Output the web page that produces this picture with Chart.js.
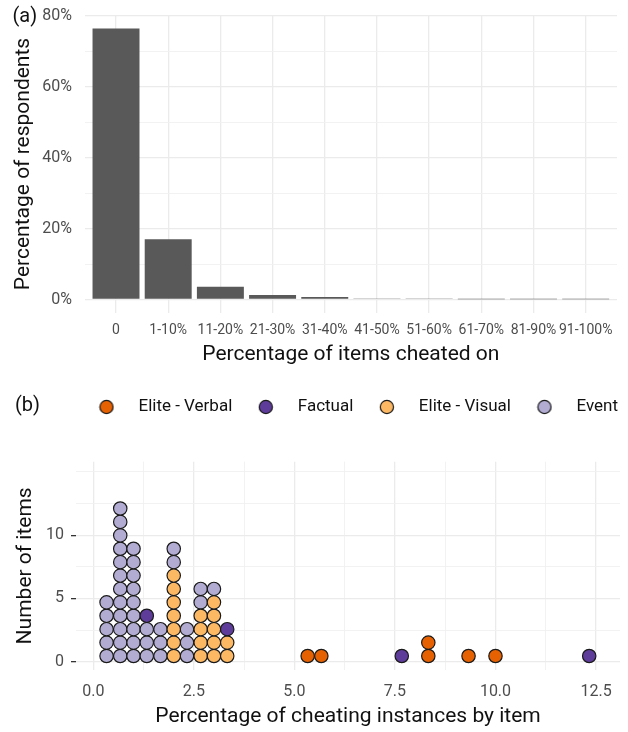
<!DOCTYPE html>
<html><head><meta charset="utf-8">
<script src="https://cdn.jsdelivr.net/npm/chart.js@4"></script>
<style>
html,body{margin:0;padding:0;background:#fff;}
#wrap{position:relative;width:628px;height:732px;overflow:hidden;}
#ca{position:absolute;left:0;top:0;}
#cb{position:absolute;left:0;top:370px;}
</style></head><body>
<div id="wrap">
<canvas id="ca" width="628" height="370"></canvas>
<canvas id="cb" width="628" height="362"></canvas>
</div>
<script>
// ---------- Panel (a) data ----------
const itemBands = ['0','1-10%','11-20%','21-30%','31-40%','41-50%','51-60%','61-70%','81-90%','91-100%'];
const respondentPct = [76.4, 17.0, 3.6, 1.3, 0.7, 0.3, 0.3, 0.1, 0.1, 0.1];
const pctTicks = [0, 20, 40, 60, 80];

// ---------- Panel (b) data ----------
const itemPct = [0.33, 0.67, 1.0, 1.33, 1.67, 2.0, 2.33, 2.67, 3.0, 3.33, 5.33, 5.67, 7.67, 8.33, 9.33, 10.0, 12.33];
const eliteVisualCounts = [0,0,0,0,0,7,0,4,5,2,0,0,0,0,0,0,0];
const eventCounts       = [5,12,9,3,3,2,3,2,1,0,0,0,0,0,0,0,0];
const factualCounts     = [0,0,0,1,0,0,0,0,0,1,0,0,1,0,0,0,1];
const eliteVerbalCounts = [0,0,0,0,0,0,0,0,0,0,1,1,0,2,1,1,0];
const xTicksB = [0, 2.5, 5, 7.5, 10, 12.5];
const yTicksB = [0, 5, 10];

// ---------- helpers ----------
const FONT = 'Roboto';
const TICK_COL = '#4D4D4D';
const TITLE_COL = '#111111';
const GRID_MAJOR = '#EBEBEB';
const GRID_MINOR = '#F1F1F1';

function withMinor(majors, max) {
  return s => {
    const step = (majors[1] - majors[0]) / 2;
    const t = [];
    for (let v = majors[0]; v <= max + 1e-9; v += step) t.push({value: Math.round(v * 1000) / 1000});
    s.ticks = t;
  };
}
function isMajor(list, v) { return list.some(m => Math.abs(m - v) < 1e-6); }

const panelLabel = {
  id: 'panelLabel',
  afterDraw(chart, args, opts) {
    const ctx = chart.ctx;
    ctx.save();
    ctx.font = '20px ' + FONT;
    ctx.fillStyle = TITLE_COL;
    ctx.textBaseline = 'middle';
    ctx.textAlign = 'left';
    ctx.fillText(opts.text, opts.x, opts.y);
    ctx.restore();
  }
};

// ---------- Chart (a) ----------
new Chart(document.getElementById('ca'), {
  type: 'bar',
  data: {
    datasets: [{
      label: 'Percentage of respondents',
      data: itemBands.map((b, i) => ({x: i, y: respondentPct[i]})),
      backgroundColor: '#595959',
      borderWidth: 0,
      barPercentage: 0.9,
      categoryPercentage: 1.0
    }]
  },
  plugins: [panelLabel],
  options: {
    responsive: false,
    animation: false,
    layout: {padding: {left: 0, right: 11, top: 15, bottom: 0}},
    plugins: {
      legend: {display: false},
      tooltip: {enabled: false},
      panelLabel: {text: '(a)', x: 12.5, y: 17}
    },
    scales: {
      x: {
        type: 'linear', min: -0.6, max: 9.6, offset: false,
        afterBuildTicks: s => { s.ticks = itemBands.map((b, i) => ({value: i})); },
        ticks: {
          callback: v => itemBands[v],
          autoSkip: false, maxRotation: 0, minRotation: 0,
          color: TICK_COL, font: {family: FONT, size: 14}, padding: 9.3
        },
        grid: {color: GRID_MAJOR, lineWidth: 1.3, drawTicks: false, offset: false},
        border: {display: false},
        title: {display: true, text: 'Percentage of items cheated on',
          font: {family: FONT, size: 21}, color: TITLE_COL, padding: {top: 0, bottom: 2.4}},
        afterFit: s => { s.height = 57; }
      },
      y: {
        min: -3.8, max: 80.2,
        afterBuildTicks: withMinor(pctTicks, 80.2),
        ticks: {
          callback: v => isMajor(pctTicks, v) ? v + '%' : '',
          autoSkip: false, color: TICK_COL, font: {family: FONT, size: 16}, padding: 4.7
        },
        grid: {
          color: c => isMajor(pctTicks, c.tick.value) ? GRID_MAJOR : GRID_MINOR,
          lineWidth: c => isMajor(pctTicks, c.tick.value) ? 1.3 : 0.9,
          drawTicks: true, tickLength: 8, tickColor: 'rgba(0,0,0,0)'
        },
        border: {display: false},
        title: {display: true, text: 'Percentage of respondents',
          font: {family: FONT, size: 21}, color: TITLE_COL, padding: {top: 11.4, bottom: 0}},
        afterFit: s => { s.width = 84.7; }
      }
    }
  }
});

// ---------- Chart (b) ----------
const stackOrder = [eliteVisualCounts, eventCounts, factualCounts, eliteVerbalCounts];
const DOT_BASE = 0.45, DOT_STEP = 1.06;
function stackPoints(counts) {
  const idx = stackOrder.indexOf(counts);
  const pts = [];
  itemPct.forEach((x, b) => {
    let below = 0;
    for (let k = 0; k < idx; k++) below += stackOrder[k][b];
    for (let n = 0; n < counts[b]; n++) pts.push({x: x, y: DOT_BASE + (below + n) * DOT_STEP});
  });
  return pts;
}
function keyIcon(color) {
  const c = document.createElement('canvas');
  c.width = 16; c.height = 16;
  const g = c.getContext('2d');
  g.beginPath();
  g.arc(8, 8, 6.6, 0, Math.PI * 2);
  g.fillStyle = color; g.fill();
  g.lineWidth = 1.2; g.strokeStyle = '#1a1a1a'; g.stroke();
  return c;
}
const series = [
  {label: 'Elite - Verbal', counts: eliteVerbalCounts, color: '#E66101'},
  {label: 'Factual',        counts: factualCounts,     color: '#5E3C99'},
  {label: 'Elite - Visual', counts: eliteVisualCounts, color: '#FDB863'},
  {label: 'Event',          counts: eventCounts,       color: '#B2ABD2'}
];

new Chart(document.getElementById('cb'), {
  type: 'scatter',
  data: {
    datasets: series.map(s => ({
      label: s.label,
      data: stackPoints(s.counts),
      backgroundColor: s.color,
      borderColor: '#1a1a1a',
      borderWidth: 1.2,
      pointRadius: 6.7,
      pointHoverRadius: 6.7,
      xAxisID: 'x', yAxisID: 'y'
    }))
  },
  plugins: [panelLabel],
  options: {
    responsive: false,
    animation: false,
    layout: {padding: {left: 0, right: 0, top: 18.5, bottom: 0}},
    plugins: {
      tooltip: {enabled: false},
      panelLabel: {text: '(b)', x: 15, y: 36},
      legend: {
        display: true, position: 'top', align: 'end',
        labels: {
          usePointStyle: true, pointStyleWidth: 47, padding: 10,
          font: {family: FONT, size: 17}, color: TITLE_COL,
          generateLabels: chart => chart.data.datasets.map((ds, i) => ({
            text: ds.label, fillStyle: ds.backgroundColor, strokeStyle: '#1a1a1a',
            lineWidth: 1.2, pointStyle: keyIcon(ds.backgroundColor), hidden: false,
            datasetIndex: i, fontColor: TITLE_COL
          }))
        }
      }
    },
    scales: {
      x: {
        type: 'linear', position: 'bottom', min: -0.43, max: 13.096,
        afterBuildTicks: withMinor(xTicksB, 13.096),
        ticks: {
          callback: v => isMajor(xTicksB, v) ? v.toFixed(1) : '',
          autoSkip: false, maxRotation: 0, minRotation: 0,
          color: TICK_COL, font: {family: FONT, size: 16}, padding: 12.1
        },
        grid: {
          color: c => isMajor(xTicksB, c.tick.value) ? GRID_MAJOR : GRID_MINOR,
          lineWidth: c => isMajor(xTicksB, c.tick.value) ? 1.3 : 0.9,
          drawTicks: false
        },
        border: {display: false},
        title: {display: true, text: 'Percentage of cheating instances by item',
          font: {family: FONT, size: 21}, color: TITLE_COL, padding: {top: 0, bottom: 2.7}},
        afterFit: s => { s.height = 62; }
      },
      y: {
        type: 'linear', position: 'left', min: -0.656, max: 15.81,
        afterBuildTicks: withMinor(yTicksB, 15.81),
        ticks: {
          callback: v => isMajor(yTicksB, v) ? String(v) : '',
          autoSkip: false, color: TICK_COL, font: {family: FONT, size: 16}, padding: 7
        },
        grid: {
          color: c => isMajor(yTicksB, c.tick.value) ? GRID_MAJOR : GRID_MINOR,
          lineWidth: c => isMajor(yTicksB, c.tick.value) ? 1.3 : 0.9,
          drawTicks: true, tickLength: 5, tickWidth: 1.3,
          tickColor: c => isMajor(yTicksB, c.tick.value) ? '#333333' : 'rgba(0,0,0,0)'
        },
        border: {display: false},
        title: {display: true, text: 'Number of items',
          font: {family: FONT, size: 21}, color: TITLE_COL, padding: {top: 13.4, bottom: 0}},
        afterFit: s => { s.width = 76; }
      },
      xTop: {
        type: 'linear', position: 'top', display: true,
        ticks: {display: false}, grid: {display: false, drawTicks: false}, border: {display: false},
        afterFit: s => { s.height = 36.2; }
      },
      yRight: {
        type: 'linear', position: 'right', display: true,
        ticks: {display: false}, grid: {display: false, drawTicks: false}, border: {display: false},
        afterFit: s => { s.width = 8; }
      }
    }
  }
});
</script>
</body></html>
